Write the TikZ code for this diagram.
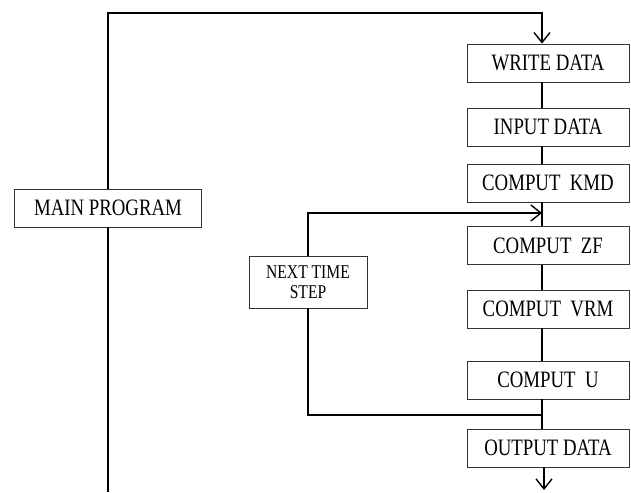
\documentclass[tikz,border=0pt]{standalone}
\usepackage{fontspec}
\setmainfont{Liberation Serif}[FakeStretch=0.8]
\usetikzlibrary{arrows.meta}
\begin{document}
\begin{tikzpicture}[x=1pt,y=-1pt,
  box/.style={draw=black!80, line width=0.8pt, inner sep=0pt, font=\fontsize{23.5}{25}\selectfont},
  colbox/.style={box, minimum width=162pt, minimum height=38pt},
  conn/.style={line width=1.4pt, line join=miter},
  arr/.style={conn, -{Straight Barb[length=10pt,width=16pt,line width=1.4pt]}}]
\useasboundingbox (0,0) rectangle (631,492);
\node[box, minimum width=187pt, minimum height=38pt] (main) at (108,208) {MAIN PROGRAM};
\node[colbox] (wd)  at (548,63)  {WRITE DATA};
\node[colbox] (id)  at (548,127) {INPUT DATA};
\node[colbox] (kmd) at (548,183) {COMPUT\ \ KMD};
\node[colbox] (zf)  at (548,245.5) {COMPUT\ \ ZF};
\node[colbox] (vrm) at (548,309) {COMPUT\ \ VRM};
\node[colbox] (u)   at (548,380) {COMPUT\ \ U};
\node[colbox] (out) at (548,448) {OUTPUT DATA};
\node[box, minimum width=118pt, minimum height=52pt, align=center,
      font=\fontsize{19.5}{20.5}\selectfont] (nts) at (308,282) {NEXT TIME\\STEP};
\coordinate (col) at (542,0);
\coordinate (topR) at (542,13);
\coordinate (bot) at (108,492);
\coordinate (loopin) at (542,213);
\coordinate (loopout) at (542,415);
\coordinate (endp) at (544,490);
% main program loop
\draw[arr] (main.north) |- (topR) -- (wd.north -| topR);
\draw[conn] (main.south) -- (bot);
% column connectors
\draw[conn] (wd.south -| col) -- (id.north -| col);
\draw[conn] (id.south -| col) -- (kmd.north -| col);
\draw[conn] (kmd.south -| col) -- (zf.north -| col);
\draw[conn] (zf.south -| col) -- (vrm.north -| col);
\draw[conn] (vrm.south -| col) -- (u.north -| col);
\draw[conn] (u.south -| col) -- (out.north -| col);
% time-step loop
\draw[arr] (nts.north) |- (loopin);
\draw[conn] (loopout) -| (nts.south);
% output
\draw[arr] (out.south -| endp) -- (endp);
\end{tikzpicture}
\end{document}
